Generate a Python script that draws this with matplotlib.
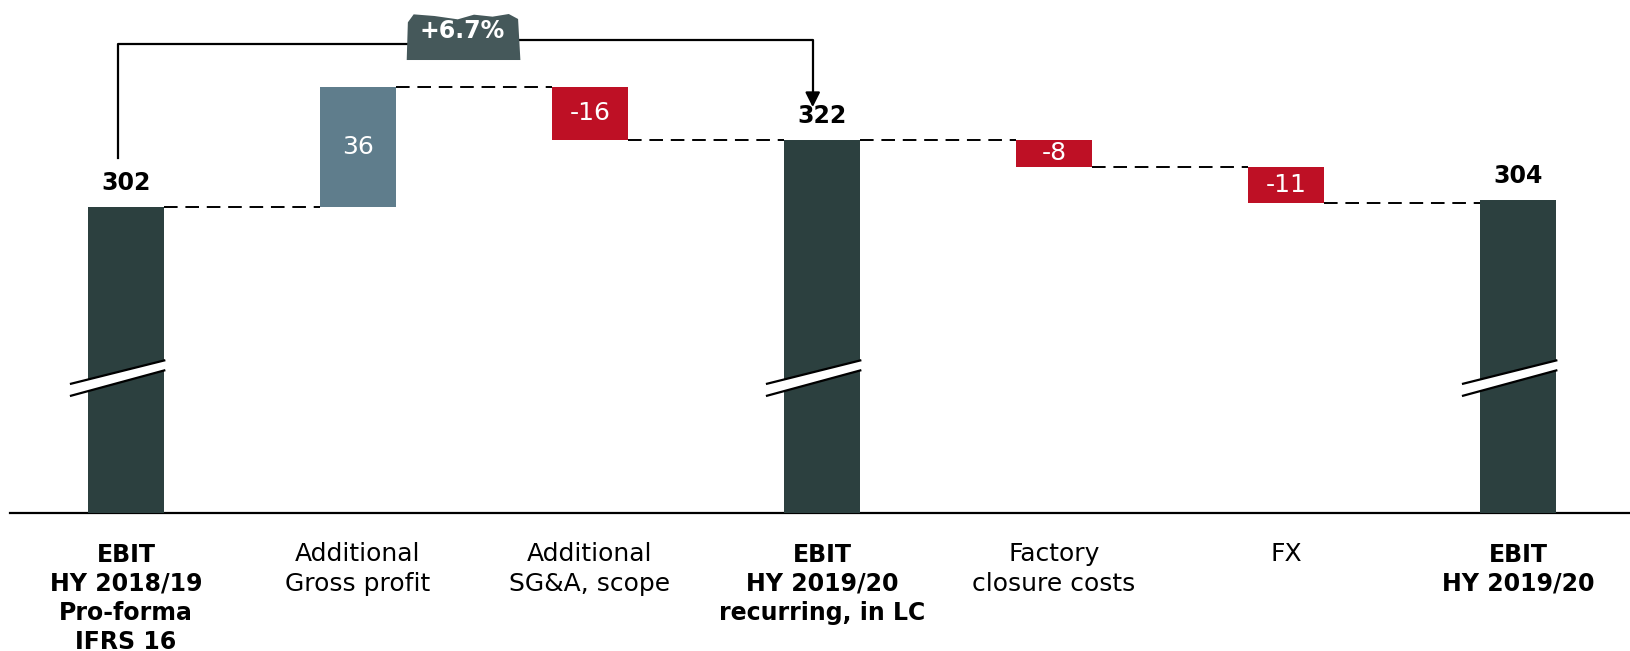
import matplotlib.pyplot as plt
from matplotlib.patches import Polygon

# --- data ---
categories = ["EBIT\nHY 2018/19\nPro-forma\nIFRS 16", "Additional\nGross profit",
              "Additional\nSG&A, scope", "EBIT\nHY 2019/20\nrecurring, in LC",
              "Factory\nclosure costs", "FX", "EBIT\nHY 2019/20"]
values = [302, 36, -16, 322, -8, -11, 304]
is_total = [True, False, False, True, False, False, True]
growth_label = "+6.7%"

# --- style ---
C_TOTAL = "#2c403f"
C_UP = "#5f7d8c"
C_DOWN = "#be1025"
C_BADGE = "#45585a"
plt.rcParams['font.family'] = ["DejaVu Sans"]

YMIN, YMAX = 210, 364
WIDTH = 0.33
PX = 3.33  # pixels per value unit

fig = plt.figure(figsize=(16.31, 6.51), dpi=100)
ax = fig.add_axes([0, 138 / 651, 1, 513 / 651])
ax.set_xlim(-0.543, 6.487)
ax.set_ylim(YMIN, YMAX)
ax.axis("off")

# baseline
ax.axhline(YMIN, xmin=10 / 1631, xmax=1, color="black", lw=1.6, clip_on=False)

running = 0
ends = []
for i, (v, tot) in enumerate(zip(values, is_total)):
    if tot:
        ax.bar(i, v - YMIN, bottom=YMIN, width=WIDTH, color=C_TOTAL, zorder=2)
        ax.text(i, v + 3.5, f"{v}", ha="center", va="bottom", fontsize=17,
                fontweight="bold", color="black")
        running = v
        # axis break mark
        x0, x1 = i - 0.237, i + WIDTH / 2
        top = [(x0, 248.8), (x1, 255.8)]
        bot = [(x0, 245.2), (x1, 252.8)]
        ax.add_patch(Polygon(top + bot[::-1], closed=True, facecolor="white",
                             edgecolor="none", zorder=3))
        ax.plot(*zip(*top), color="black", lw=1.6, zorder=4)
        ax.plot(*zip(*bot), color="black", lw=1.6, zorder=4)
    else:
        bottom = running + min(v, 0)
        ax.bar(i, abs(v), bottom=bottom, width=WIDTH,
               color=C_UP if v > 0 else C_DOWN, zorder=2)
        ax.text(i, bottom + abs(v) / 2, f"{v}", ha="center", va="center",
                fontsize=18, color="white")
        running += v
    ends.append(running)

# dashed connectors
for i in range(len(values) - 1):
    ax.plot([i + WIDTH / 2, i + 1 - WIDTH / 2], [ends[i], ends[i]],
            color="black", lw=1.4, ls=(0, (7, 4)), zorder=1)

# category labels
for i, lab in enumerate(categories):
    if is_total[i]:
        ax.text(i, -0.058, lab, transform=ax.get_xaxis_transform(), ha="center",
                va="top", fontsize=17, linespacing=1.27, fontweight="bold")
    else:
        ax.text(i, -0.056, lab, transform=ax.get_xaxis_transform(), ha="center",
                va="top", fontsize=18, linespacing=1.33)

# growth bracket
y_left, y_right = YMAX - 44 / PX, YMAX - 40 / PX
xl, xr = -0.035, 3 - 0.04
ax.plot([xl, xl, 1.25], [302 + 14.5, y_left, y_left], color="black", lw=1.6,
        clip_on=False, zorder=5)
ax.plot([1.7, xr, xr], [y_right, y_right, 336], color="black", lw=1.6,
        clip_on=False, zorder=5)
ax.annotate("", xy=(xr, 331), xytext=(xr, 337),
            arrowprops=dict(arrowstyle="-|>", color="black", lw=1.6,
                            mutation_scale=22), zorder=5)

# rough "torn paper" badge
bx0, bx1 = 1.21, 1.70
by0, by1 = YMAX - 60 / PX, YMAX - 14 / PX
badge_pts = [(bx0, by0), (bx1, by0), (bx1 - 0.01, by1 - 1.5), (bx1 - 0.05, by1),
             (bx1 - 0.12, by1 - 0.8), (bx1 - 0.2, by1 - 0.2), (bx1 - 0.27, by1 - 1.6),
             (bx0 + 0.12, by1 - 0.6), (bx0 + 0.03, by1 - 0.1), (bx0 + 0.005, by1 - 2.5)]
ax.add_patch(Polygon(badge_pts, closed=True, facecolor=C_BADGE, edgecolor="none",
                     zorder=6, clip_on=False))
ax.text(1.45, YMAX - 31 / PX, growth_label, ha="center", va="center",
        fontsize=17, fontweight="bold", color="white", zorder=7)

fig.savefig("out.png", dpi=100)
